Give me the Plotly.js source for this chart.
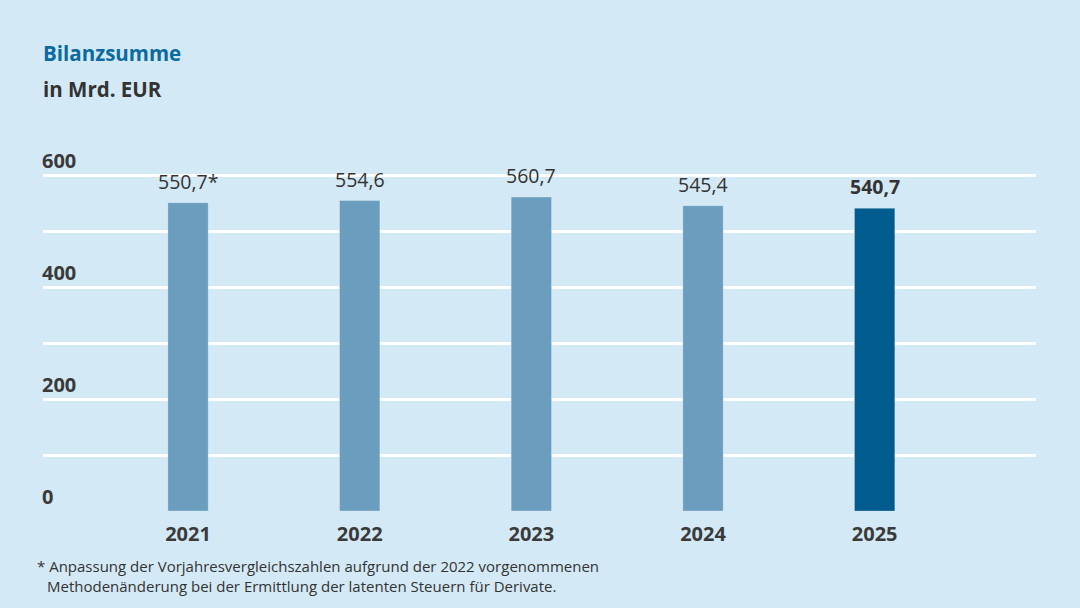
<!DOCTYPE html>
<html>
<head>
<meta charset="utf-8">
<script src="https://cdn.plot.ly/plotly-3.0.1.min.js"></script>
<style>
html,body{margin:0;padding:0;background:#d3e9f5;}
#chart{width:1080px;height:608px;}
</style>
</head>
<body>
<div id="chart"></div>
<script>
const years = ['2021', '2022', '2023', '2024', '2025'];
const values = [550.7, 554.6, 560.7, 545.4, 540.7];
const valueLabels = ['550,7*', '554,6', '560,7', '545,4', '<b>540,7</b>'];
const barColors = ['#6a9dbe', '#6a9dbe', '#6a9dbe', '#6a9dbe', '#005b8e'];
const yGridVals = [0, 100, 200, 300, 400, 500, 600];
const yLabelVals = [0, 200, 400, 600];
const yLabelText = ['0', '200', '400', '600'];

const font = 'Open Sans, Noto Sans, sans-serif';

const trace = {
  type: 'bar',
  x: years,
  y: values,
  marker: {color: barColors, line: {color: 'rgba(255,255,255,0.25)', width: 1}},
  width: 0.235,
  hoverinfo: 'skip'
};

const annotations = [
  {xref: 'paper', yref: 'paper', x: 0, y: 1, xanchor: 'left', yanchor: 'middle',
   xshift: -2, yshift: 121, text: '<b>Bilanzsumme</b>', showarrow: false,
   font: {family: font, size: 20.5, color: '#0a6aa1'}},
  {xref: 'paper', yref: 'paper', x: 0, y: 1, xanchor: 'left', yanchor: 'middle',
   xshift: -2, yshift: 85, text: '<b>in Mrd. EUR</b>', showarrow: false,
   font: {family: font, size: 20.5, color: '#333333'}},
  {xref: 'paper', yref: 'paper', x: 0, y: 0, xanchor: 'left', yanchor: 'middle',
   xshift: -8, yshift: -55, text: '* Anpassung der Vorjahresvergleichszahlen aufgrund der 2022 vorgenommenen',
   showarrow: false, font: {family: font, size: 15, color: '#333333'}},
  {xref: 'paper', yref: 'paper', x: 0, y: 0, xanchor: 'left', yanchor: 'middle',
   xshift: 2, yshift: -75, text: 'Methodenänderung bei der Ermittlung der latenten Steuern für Derivate.',
   showarrow: false, font: {family: font, size: 15, color: '#333333'}}
];

yLabelVals.forEach((v, i) => {
  annotations.push({xref: 'paper', yref: 'y', x: 0, y: v, xanchor: 'left', yanchor: 'bottom',
    xshift: -3, yshift: -1, text: '<b>' + yLabelText[i] + '</b>', showarrow: false,
    font: {family: font, size: 20, color: '#3a3a3a'}});
});

years.forEach((yr, i) => {
  annotations.push({xref: 'x', yref: 'y', x: i, y: values[i], xanchor: 'center', yanchor: 'bottom',
    yshift: 6, text: valueLabels[i], showarrow: false,
    font: {family: font, size: 19.5, color: '#333333'}});
});

const layout = {
  width: 1080,
  height: 608,
  paper_bgcolor: '#d3e9f5',
  plot_bgcolor: '#d3e9f5',
  margin: {l: 43, r: 44, t: 174, b: 97},
  showlegend: false,
  font: {family: font, color: '#333333'},
  xaxis: {
    type: 'category',
    range: [-0.845, 4.94],
    showgrid: false,
    zeroline: false,
    showline: false,
    ticks: 'outside',
    ticklen: 5,
    tickcolor: 'rgba(0,0,0,0)',
    tickfont: {family: font, size: 20, color: '#3a3a3a', weight: 'bold'},
    fixedrange: true
  },
  yaxis: {
    range: [0, 602],
    tickvals: yGridVals,
    showticklabels: false,
    showgrid: true,
    gridcolor: '#ffffff',
    gridwidth: 3,
    zeroline: false,
    showline: false,
    ticks: '',
    fixedrange: true
  },
  annotations: annotations
};

Plotly.newPlot('chart', [trace], layout, {displayModeBar: false, staticPlot: true});
</script>
</body>
</html>
